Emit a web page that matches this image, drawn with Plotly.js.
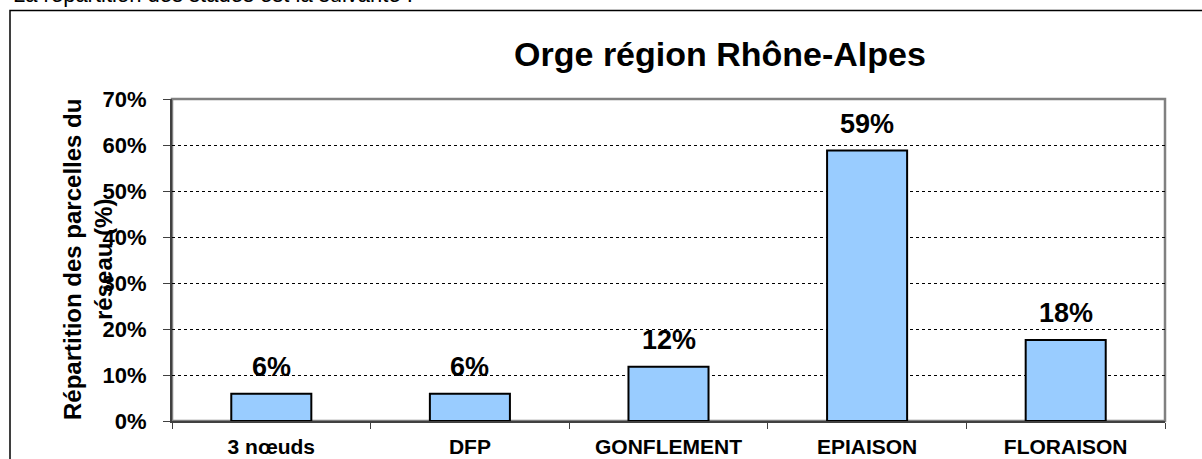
<!DOCTYPE html>
<html>
<head>
<meta charset="utf-8">
<script src="https://cdn.plot.ly/plotly-3.0.1.min.js"></script>
<style>
  html, body { margin: 0; padding: 0; background: #ffffff; }
  #chart { width: 1202px; height: 459px; }
</style>
</head>
<body>
<div id="chart"></div>
<script>
// Data
const categories = ['3 nœuds', 'DFP', 'GONFLEMENT', 'EPIAISON', 'FLORAISON'];
const values = [5.9, 5.9, 11.8, 58.8, 17.6];
const chartTitle = 'Orge région Rhône-Alpes';
const yTitleText = 'Répartition des parcelles du<br>réseau (%)';
const introText = 'La répartition des stades est la suivante :';

const FONT = 'Arial, "Liberation Sans", sans-serif';

// plot area geometry in pixels (used only to convert to paper coordinates)
const W = 1202, H = 459;
const mL = 172, mR = 37, mT = 99, mB = 38;
const pw = W - mL - mR, ph = H - mT - mB;
const px = x => (x - mL) / pw;
const py = y => (H - mB - y) / ph;

const trace = {
  type: 'bar',
  x: categories,
  y: values,
  marker: { color: '#99CCFF', line: { color: '#000000', width: 2 } },
  hoverinfo: 'skip'
};

const valueLabels = categories.map((c, i) => ({
  x: c, y: values[i], xref: 'x', yref: 'y',
  text: Math.round(values[i]) + '%',
  showarrow: false, yanchor: 'bottom', yshift: 10,
  font: { family: FONT, size: 27, color: '#000', weight: 'bold' }
}));

const layout = {
  width: W, height: H,
  margin: { l: mL, r: mR, t: mT, b: mB, pad: 0 },
  paper_bgcolor: '#ffffff',
  plot_bgcolor: '#ffffff',
  showlegend: false,
  bargap: 0.597,
  title: {
    text: chartTitle,
    font: { family: FONT, size: 34, color: '#000', weight: 'bold' },
    xref: 'paper', x: px(720), xanchor: 'center',
    yref: 'container', y: 1 - 54 / H, yanchor: 'middle'
  },
  xaxis: {
    type: 'category',
    showgrid: false,
    zeroline: false,
    showline: true, linecolor: '#404040', linewidth: 2,
    ticks: 'outside', tickson: 'boundaries', ticklen: 6, tickcolor: '#404040', tickwidth: 1,
    ticklabelstandoff: 6,
    tickfont: { family: FONT, size: 21, color: '#000', weight: 'bold' }
  },
  yaxis: {
    range: [0, 70], dtick: 10, ticksuffix: '%',
    showgrid: true, gridcolor: '#000000', gridwidth: 1, griddash: 'dot',
    zeroline: false,
    showline: true, linecolor: '#404040', linewidth: 2,
    ticks: 'outside', ticklen: 7, tickcolor: '#404040', tickwidth: 1,
    ticklabelstandoff: 12,
    tickfont: { family: FONT, size: 22, color: '#000', weight: 'bold' }
  },
  shapes: [
    // plot area border (gray)
    { type: 'rect', xref: 'paper', yref: 'paper', x0: 0, x1: 1, y0: 0, y1: 1,
      line: { color: '#808080', width: 2.5 }, layer: 'below' },
    // outer chart border
    { type: 'rect', xref: 'paper', yref: 'paper',
      x0: px(10), x1: px(1210), y0: py(480), y1: py(10.5),
      line: { color: '#000000', width: 1.5 }, layer: 'above' }
  ],
  annotations: valueLabels.concat([
    { text: yTitleText, xref: 'paper', yref: 'paper', x: px(88), y: py(260),
      xanchor: 'center', yanchor: 'middle', textangle: -90, showarrow: false,
      font: { family: FONT, size: 24, color: '#000', weight: 'bold' } },
    { text: introText, xref: 'paper', yref: 'paper', x: px(11), y: py(8.5),
      xanchor: 'left', yanchor: 'bottom', showarrow: false,
      font: { family: FONT, size: 22, color: '#000' } }
  ])
};

Plotly.newPlot('chart', [trace], layout, { displayModeBar: false, staticPlot: true });
</script>
</body>
</html>
